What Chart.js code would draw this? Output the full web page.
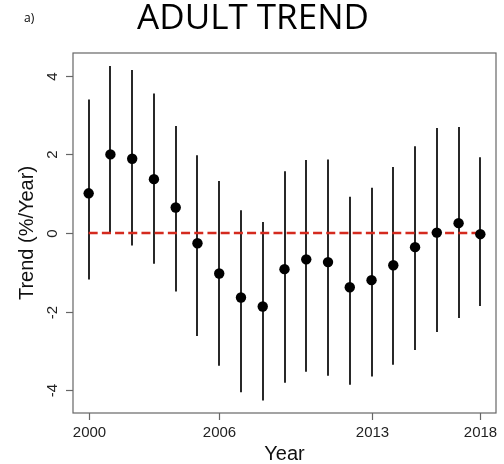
<!DOCTYPE html>
<html>
<head>
<meta charset="utf-8">
<script src="https://cdn.jsdelivr.net/npm/chart.js@4/dist/chart.umd.min.js"></script>
<style>
  html, body { margin: 0; padding: 0; background: #fff; }
  #wrap { width: 504px; height: 464px; position: relative; }
</style>
</head>
<body>
<div id="wrap"><canvas id="c" width="504" height="464"></canvas></div>
<script>
// Annual adult trend estimates (%/year) with their interval bounds
const years = [2000, 2001, 2002, 2003, 2004, 2005, 2006, 2007, 2008, 2009,
               2010, 2011, 2012, 2013, 2014, 2015, 2016, 2017, 2018];
const trend = [1.01, 2.00, 1.89, 1.37, 0.65, -0.26, -1.03, -1.64, -1.87, -0.92,
               -0.67, -0.74, -1.38, -1.20, -0.82, -0.36, 0.01, 0.25, -0.03];
const upper = [3.40, 4.25, 4.15, 3.55, 2.72, 1.98, 1.32, 0.58, 0.28, 1.57,
               1.86, 1.87, 0.92, 1.15, 1.68, 2.21, 2.67, 2.70, 1.93];
const lower = [-1.18, -0.02, -0.32, -0.78, -1.49, -2.62, -3.38, -4.05, -4.26, -3.81,
               -3.53, -3.63, -3.86, -3.65, -3.35, -2.98, -2.52, -2.16, -1.86];
const xTicks = [2000, 2006, 2013, 2018];
const yTicks = [-4, -2, 0, 2, 4];

const AXIS_GREY = '#666666';
const LABEL_FONT = '"Liberation Sans", Arial, sans-serif';

// Draws the frame, ticks, labels, headings and the vertical intervals
const rStyle = {
  id: 'rStyle',
  beforeDatasetsDraw(chart) {
    const { ctx } = chart;
    const xs = chart.scales.x, ys = chart.scales.y;
    ctx.save();
    ctx.strokeStyle = '#111';
    ctx.lineWidth = 1.8;
    ctx.lineCap = 'butt';
    years.forEach((yr, i) => {
      const px = Math.round(xs.getPixelForValue(yr));
      ctx.beginPath();
      ctx.moveTo(px, ys.getPixelForValue(upper[i]));
      ctx.lineTo(px, ys.getPixelForValue(lower[i]));
      ctx.stroke();
    });
    ctx.restore();
  },
  afterDraw(chart) {
    const { ctx, chartArea: a } = chart;
    const xs = chart.scales.x, ys = chart.scales.y;
    ctx.save();
    // frame
    ctx.strokeStyle = AXIS_GREY;
    ctx.lineWidth = 1.2;
    ctx.strokeRect(a.left, a.top, a.right - a.left, a.bottom - a.top);

    // x ticks and labels
    ctx.fillStyle = '#222';
    ctx.font = '15px ' + LABEL_FONT;
    ctx.textAlign = 'center';
    ctx.textBaseline = 'alphabetic';
    xTicks.forEach(v => {
      const px = Math.round(xs.getPixelForValue(v)) + 0.5;
      ctx.beginPath();
      ctx.moveTo(px, a.bottom);
      ctx.lineTo(px, a.bottom + 7);
      ctx.stroke();
      ctx.fillText(String(v), px, a.bottom + 24);
    });

    // y ticks and rotated labels
    yTicks.forEach(v => {
      const py = Math.round(ys.getPixelForValue(v)) + 0.5;
      ctx.beginPath();
      ctx.moveTo(a.left, py);
      ctx.lineTo(a.left - 7, py);
      ctx.stroke();
      ctx.save();
      ctx.translate(a.left - 16, py);
      ctx.rotate(-Math.PI / 2);
      ctx.fillText(String(v), 0, 0);
      ctx.restore();
    });

    // axis titles
    ctx.fillStyle = '#111';
    ctx.font = '20px ' + LABEL_FONT;
    ctx.fillText('Year', (a.left + a.right) / 2, 460);
    ctx.save();
    ctx.translate(33, (a.top + a.bottom) / 2);
    ctx.rotate(-Math.PI / 2);
    ctx.fillText('Trend (%/Year)', 0, 0);
    ctx.restore();

    // heading and panel letter
    ctx.fillStyle = '#000';
    ctx.font = '35px "Open Sans", sans-serif';
    ctx.fillText('ADULT TREND', 253, 29);
    ctx.font = '12px "Open Sans", sans-serif';
    ctx.textAlign = 'left';
    ctx.fillText('a)', 24, 22);
    ctx.restore();
  }
};

new Chart(document.getElementById('c'), {
  type: 'scatter',
  data: {
    datasets: [
      {
        type: 'scatter',
        data: years.map((yr, i) => ({ x: yr, y: trend[i] })),
        pointRadius: 5.2,
        pointBackgroundColor: '#000',
        pointBorderColor: '#000',
        pointBorderWidth: 0,
        order: 0
      },
      {
        type: 'line',
        data: [{ x: years[0], y: 0 }, { x: years[years.length - 1], y: 0 }],
        borderColor: '#d42a1e',
        borderWidth: 2.6,
        borderDash: [9, 4.2],
        pointRadius: 0,
        fill: false,
        order: 1
      }
    ]
  },
  options: {
    responsive: false,
    animation: false,
    events: [],
    layout: { padding: { left: 73, top: 53, right: 8, bottom: 51 } },
    plugins: { legend: { display: false }, tooltip: { enabled: false }, title: { display: false } },
    scales: {
      x: { type: 'linear', min: 1999.28, max: 2018.72, display: false },
      y: { type: 'linear', min: -4.58, max: 4.58, display: false }
    }
  },
  plugins: [rStyle]
});
</script>
</body>
</html>
